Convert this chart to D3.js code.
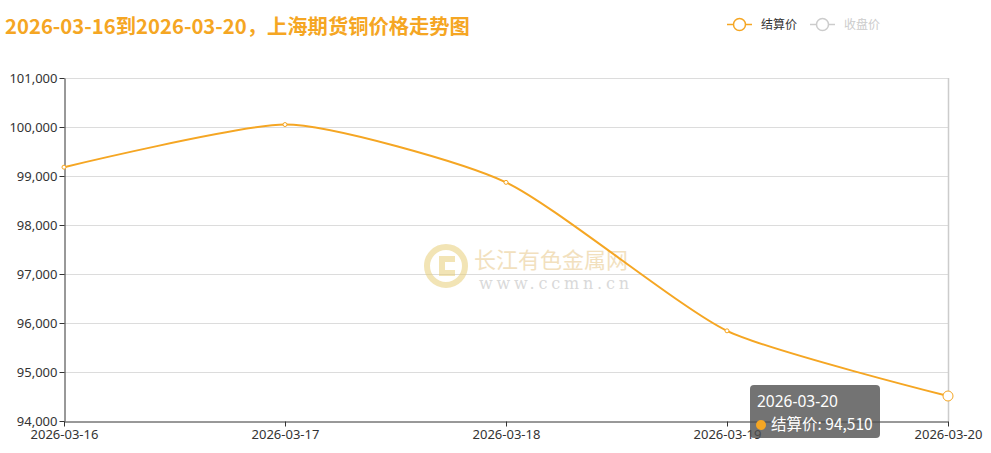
<!DOCTYPE html>
<html><head><meta charset="utf-8">
<script src="https://cdn.jsdelivr.net/npm/d3@7/dist/d3.min.js"></script>
<style>
html,body{margin:0;padding:0;background:#fff;}
svg{display:block;font-family:"Noto Sans CJK SC","Noto Sans",sans-serif;}
</style></head>
<body><svg id="chart" width="991" height="453"></svg>
<script>
const titleText = "2026-03-16到2026-03-20，上海期货铜价格走势图";
const categories = ["2026-03-16","2026-03-17","2026-03-18","2026-03-19","2026-03-20"];
const settlePrice = [99180, 100050, 98870, 95840, 94510];
const legendNames = ["结算价","收盘价"];
const yTicks = [94000,95000,96000,97000,98000,99000,100000,101000];
const tooltipIndex = 4;

const W = 991, H = 453;
const margin = {left:64, right:43, top:78, bottom:32};
const orange = "#F5A623";
const svg = d3.select("#chart");

const x = d3.scalePoint().domain(categories).range([margin.left, W - margin.right]);
const y = d3.scaleLinear().domain([94000, 101000]).range([H - margin.bottom, margin.top]);

// title
svg.append("text").attr("x",5).attr("y",34)
  .attr("font-size",20.3).attr("font-weight","bold").attr("fill",orange)
  .text(titleText);

// grid lines
svg.append("g").selectAll("line").data(yTicks.filter(d=>d!==94000)).join("line")
  .attr("x1",margin.left).attr("x2",W-margin.right)
  .attr("y1",d=>Math.round(y(d))+0.5).attr("y2",d=>Math.round(y(d))+0.5)
  .attr("stroke","#dcdcdc").attr("stroke-width",1);

// watermark
const wm = svg.append("g").attr("opacity",0.55);
wm.append("circle").attr("cx",446).attr("cy",266).attr("r",19)
  .attr("fill","none").attr("stroke","#e8cf7a").attr("stroke-width",6);
wm.append("path").attr("d","M455 256 H439 V276 H455 V270 H445 V262 H455 Z").attr("fill","#e8cf7a");
wm.append("text").attr("x",474).attr("y",268).attr("font-size",22).attr("fill","#e8c88a")
  .text("长江有色金属网");
wm.append("text").attr("x",479).attr("y",289).attr("font-size",16).attr("fill","#bbb")
  .attr("font-family","'DejaVu Serif','Liberation Serif',serif").attr("letter-spacing",3.8)
  .text("www.ccmn.cn");

// axis pointer line at tooltip category
svg.append("line").attr("x1",Math.round(x(categories[tooltipIndex]))+0.5)
  .attr("x2",Math.round(x(categories[tooltipIndex]))+0.5)
  .attr("y1",margin.top).attr("y2",H-margin.bottom)
  .attr("stroke","#ccc").attr("stroke-width",1.5);

// axes
const yAxis = svg.append("g").attr("transform",`translate(${margin.left+0.5},0)`)
  .call(d3.axisLeft(y).tickValues(yTicks).tickSize(5).tickSizeOuter(0).tickFormat(d3.format(",")));
const xAxis = svg.append("g").attr("transform",`translate(0,${Math.round(H-margin.bottom)+0.5})`)
  .call(d3.axisBottom(x).tickSize(5).tickSizeOuter(0));
[yAxis,xAxis].forEach(g=>{
  g.select(".domain").attr("stroke","#333");
  g.selectAll(".tick line").attr("stroke","#333");
  g.selectAll(".tick text").attr("fill","#333").attr("font-size",13)
    .attr("font-family","'Noto Sans','Noto Sans CJK SC',sans-serif");
});
yAxis.selectAll(".tick text").attr("x",-7);
xAxis.selectAll(".tick text").attr("y",8);

// ECharts-like smooth line (smooth factor 0.2)
const pts = categories.map((c,i)=>[x(c), y(settlePrice[i])]);
function smoothPath(points, smooth){
  const p = d3.path();
  let cpx0, cpy0, prevX, prevY;
  for(let k=0;k<points.length;k++){
    const [px,py] = points[k];
    if(k===0){ p.moveTo(px,py); cpx0=px; cpy0=py; }
    else{
      let cpx1, cpy1, nextCpx0, nextCpy0;
      if(k===points.length-1){ cpx1=px; cpy1=py; }
      else{
        const [nx,ny] = points[k+1];
        let vx = nx-prevX, vy = ny-prevY;
        const dx0=px-prevX, dx1=nx-px, dy0=py-prevY, dy1=ny-py;
        const lp = Math.sqrt(dx0*dx0+dy0*dy0), ln = Math.sqrt(dx1*dx1+dy1*dy1);
        const r = ln/(ln+lp);
        nextCpx0 = px + vx*smooth*r; nextCpy0 = py + vy*smooth*r;
        nextCpx0 = Math.min(nextCpx0, Math.max(nx,px)); nextCpy0 = Math.min(nextCpy0, Math.max(ny,py));
        nextCpx0 = Math.max(nextCpx0, Math.min(nx,px)); nextCpy0 = Math.max(nextCpy0, Math.min(ny,py));
        vx = nextCpx0-px; vy = nextCpy0-py;
        cpx1 = px - vx*lp/ln; cpy1 = py - vy*lp/ln;
        cpx1 = Math.min(cpx1, Math.max(prevX,px)); cpy1 = Math.min(cpy1, Math.max(prevY,py));
        cpx1 = Math.max(cpx1, Math.min(prevX,px)); cpy1 = Math.max(cpy1, Math.min(prevY,py));
        vx = px-cpx1; vy = py-cpy1;
        nextCpx0 = px + vx*ln/lp; nextCpy0 = py + vy*ln/lp;
      }
      p.bezierCurveTo(cpx0,cpy0,cpx1,cpy1,px,py);
      cpx0=nextCpx0; cpy0=nextCpy0;
    }
    prevX=px; prevY=py;
  }
  return p.toString();
}
svg.append("path").attr("d",smoothPath(pts,0.2)).attr("fill","none")
  .attr("stroke",orange).attr("stroke-width",2).attr("stroke-linejoin","round");

svg.append("g").selectAll("circle").data(settlePrice).join("circle")
  .attr("cx",(d,i)=>x(categories[i])).attr("cy",d=>y(d))
  .attr("r",(d,i)=>i===tooltipIndex?5:2)
  .attr("fill","#fff").attr("stroke",orange).attr("stroke-width",1);

// legend
const lg = svg.append("g").attr("font-size",12);
[[727,legendNames[0],orange,"#333"],[810,legendNames[1],"#ccc","#ccc"]].forEach(([lx,name,c,tc])=>{
  lg.append("line").attr("x1",lx).attr("x2",lx+25).attr("y1",24.5).attr("y2",24.5).attr("stroke",c).attr("stroke-width",1.5);
  lg.append("circle").attr("cx",lx+12.5).attr("cy",24.5).attr("r",6).attr("fill","#fff").attr("stroke",c).attr("stroke-width",1.5);
  lg.append("text").attr("x",lx+34).attr("y",29).attr("fill",tc).text(name);
});

// tooltip
const tt = svg.append("g").attr("transform","translate(750,385)");
tt.append("rect").attr("width",130).attr("height",53).attr("rx",4)
  .attr("fill","rgba(80,80,80,0.8)");
tt.append("text").attr("x",7).attr("y",22).attr("font-size",15.5).attr("fill","#fff")
  .attr("font-family","'Noto Sans','Noto Sans CJK SC',sans-serif").text(categories[tooltipIndex]);
tt.append("circle").attr("cx",11).attr("cy",40).attr("r",5).attr("fill",orange);
tt.append("text").attr("x",21).attr("y",45).attr("font-size",15.5).attr("fill","#fff")
  .text(legendNames[0] + ": " + d3.format(",")(settlePrice[tooltipIndex]));
</script></body></html>
